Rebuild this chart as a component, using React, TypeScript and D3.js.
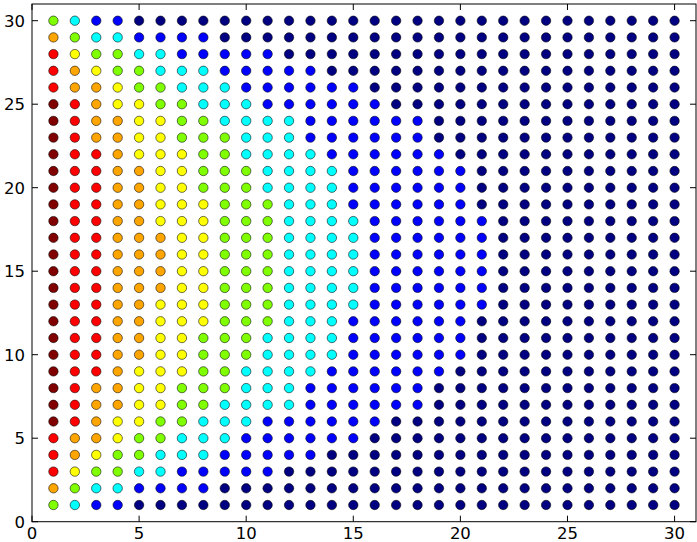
import React from "react";
import * as d3 from "d3";

// Colour level of each point, one string per row (y = 1 .. 30), one digit per column (x = 1 .. 30)
// 0 navy, 1 blue, 2 cyan, 3 green, 4 yellow, 5 orange, 6 red, 7 dark red
const rowLevels: string[] = [
  "321100000000000000000000000000", // y=1
  "532211110000000000000000000000", // y=2
  "643322111110000000000000000000", // y=3
  "654332221111100000000000000000", // y=4
  "655433222111111000000000000000", // y=5
  "765443322211111100000000000000", // y=6
  "765544332222111111000000000000", // y=7
  "765544333222111111000000000000", // y=8
  "766544433222211111100000000000", // y=9
  "766554433322221111110000000000", // y=10
  "766554433322221111110000000000", // y=11
  "766554443332221111110000000000", // y=12
  "766554443332222111111000000000", // y=13
  "766555443332222111111000000000", // y=14
  "766555443332222111111000000000", // y=15
  "766555443332222111111000000000", // y=16
  "766555443332222111111000000000", // y=17
  "766554443332222111111000000000", // y=18
  "766554443332221111110000000000", // y=19
  "766554433322221111110000000000", // y=20
  "766554433322221111110000000000", // y=21
  "766544433222211111100000000000", // y=22
  "765544333222111111000000000000", // y=23
  "765544332222111111000000000000", // y=24
  "765443322211111100000000000000", // y=25
  "655433222111111000000000000000", // y=26
  "654332221111100000000000000000", // y=27
  "643322111110000000000000000000", // y=28
  "532211110000000000000000000000", // y=29
  "321100000000000000000000000000", // y=30
];

const levelColors: string[] = [
  "#000080",
  "#0000ff",
  "#00ffff",
  "#7fff00",
  "#ffff00",
  "#ffa500",
  "#ff0000",
  "#800000",
];

const xTicks: number[] = [0, 5, 10, 15, 20, 25, 30];
const yTicks: number[] = [0, 5, 10, 15, 20, 25, 30];

const W = 697;
const H = 542;

export default function App() {
  const x = d3.scaleLinear().domain([0, 31]).range([32, 696]);
  const y = d3.scaleLinear().domain([0, 31]).range([521.7, 4]);

  const points: { px: number; py: number; lvl: number }[] = [];
  rowLevels.forEach((row, i) => {
    row.split("").forEach((ch, j) => {
      points.push({ px: j + 1, py: i + 1, lvl: +ch });
    });
  });

  const [x0, x1] = x.range();
  const [y0, y1] = y.range();
  const tl = 6;
  const font = "'DejaVu Sans', sans-serif";

  return (
    <svg
      width={W}
      height={H}
      style={{ position: "absolute", left: 0, top: 0, background: "#fff" }}
    >
      <rect x={0} y={0} width={W} height={H} fill="#fff" />
      {points.map((p, i) => (
        <circle
          key={i}
          cx={x(p.px)}
          cy={y(p.py)}
          r={4.7}
          fill={levelColors[p.lvl]}
          stroke="#000"
          strokeOpacity={0.7}
          strokeWidth={0.8}
        />
      ))}
      <rect
        x={x0}
        y={y1}
        width={x1 - x0}
        height={y0 - y1}
        fill="none"
        stroke="#000"
        strokeWidth={1}
      />
      {xTicks.map((t) => (
        <g key={"x" + t}>
          <line x1={x(t)} x2={x(t)} y1={y0} y2={y0 - tl} stroke="#000" />
          <line x1={x(t)} x2={x(t)} y1={y1} y2={y1 + tl} stroke="#000" />
          <text
            x={x(t)}
            y={539}
            textAnchor="middle"
            fontFamily={font}
            fontSize={16.5}
            fill="#000"
          >
            {t}
          </text>
        </g>
      ))}
      {yTicks.map((t) => (
        <g key={"y" + t}>
          <line x1={x0} x2={x0 + tl} y1={y(t)} y2={y(t)} stroke="#000" />
          <line x1={x1} x2={x1 - tl} y1={y(t)} y2={y(t)} stroke="#000" />
          <text
            x={25}
            y={y(t)}
            dy="0.36em"
            textAnchor="end"
            fontFamily={font}
            fontSize={16.5}
            fill="#000"
          >
            {t}
          </text>
        </g>
      ))}
    </svg>
  );
}
